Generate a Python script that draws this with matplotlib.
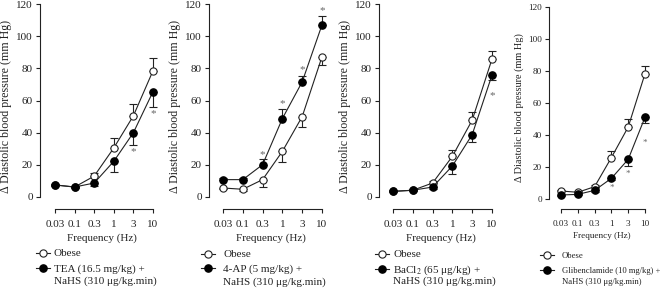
#!/usr/bin/env python3
"""Diastolic blood pressure response vs stimulation frequency, four panels."""
import matplotlib
matplotlib.use("Agg")
import matplotlib.pyplot as plt

plt.rcParams["font.family"] = ["Liberation Serif", "DejaVu Serif"]
plt.rcParams["mathtext.fontset"] = "stix"

FREQS = ["0.03", "0.1", "0.3", "1", "3", "10"]

# panel 1: TEA
obese_1 = [7.5, 6.2, 13, 30.5, 50.5, 78.5]
obese_1_err = [0.8, 0.8, 2.0, 6.3, 7.5, 8.0]
drug_1 = [7.5, 6.2, 8.7, 22.2, 40, 65.5]
drug_1_err = [0.8, 0.8, 2.0, 6.5, 7.5, 9.4]
stars_1 = {4: 28, 5: 52}

# panel 2: 4-AP
obese_2 = [5.6, 4.8, 10.8, 28.4, 50, 87.2]
obese_2_err = [0.8, 0.8, 4.5, 6.6, 6.5, 5.0]
drug_2 = [10.8, 10.8, 20.1, 48.8, 71.6, 107]
drug_2_err = [0.8, 0.8, 3.5, 6.0, 3.6, 5.4]
stars_2 = {2: 26.6, 3: 58, 4: 79.5, 5: 115.7}

# panel 3: BaCl2
obese_3 = [3.5, 4.2, 8.7, 25.3, 47.8, 85.8]
obese_3_err = [0.6, 0.6, 1.0, 3.7, 5.2, 5.2]
drug_3 = [3.5, 4.2, 6.2, 19.3, 38.8, 75.8]
drug_3_err = [0.6, 0.6, 1.0, 5.2, 4.5, 3.1]
stars_3 = {5: 63}

# panel 4: glibenclamide
obese_4 = [5.0, 4.2, 7.7, 25.9, 45, 78.3]
obese_4_err = [0.6, 0.6, 1.0, 4.4, 5.0, 4.6]
drug_4 = [2.5, 2.9, 5.4, 12.9, 24.8, 51.1]
drug_4_err = [0.6, 0.6, 1.0, 1.0, 3.9, 3.7]
stars_4 = {3: 6.7, 4: 16, 5: 34.9}

DRUG_LABELS = [
    "TEA (16.5 mg/kg) +",
    "4-AP (5 mg/kg) +",
    "BaCl$_2$ (65 μg/kg) +",
    "Glibenclamide (10 mg/kg) +",
]
NAHS_LABEL = "NaHS (310 μg/kg.min)"
# error bars: +1 up, -1 down
ERR_DIR = [(1, -1), (-1, 1), (1, -1), (1, -1)]

W, H = 671, 289
# pixel layout: spine x, first tick x, last tick x, y of 120, y of 0, x-axis y,
# tick font size, label font size
LAYOUT = [
    (40, 55, 153, 4, 197, 209, 8, 8.6),
    (209, 223, 322, 4, 197, 209, 8, 8.6),
    (379, 393, 492, 4, 197, 209, 8, 8.6),
    (549, 561, 645, 7, 199, 209, 6.6, 7.4),
]
# legend: handle left x, text x, legend font size, row y's (obese, drug, nahs)
LEGEND = [
    (36, 54, 8, (253, 269, 281)),
    (201, 223, 8, (254, 269, 282)),
    (375, 393, 8, (254, 269, 281)),
    (540, 562, 6.2, (255, 270, 282)),
]

fig = plt.figure(figsize=(W / 100, H / 100), dpi=100)

panels = [
    (obese_1, obese_1_err, drug_1, drug_1_err, stars_1),
    (obese_2, obese_2_err, drug_2, drug_2_err, stars_2),
    (obese_3, obese_3_err, drug_3, drug_3_err, stars_3),
    (obese_4, obese_4_err, drug_4, drug_4_err, stars_4),
]

xs = list(range(len(FREQS)))
for i, (ob, ob_e, dr, dr_e, stars) in enumerate(panels):
    sx, t0, t5, y120, y0, yb, fs, lfs = LAYOUT[i]
    right = t5 + 10
    ax = fig.add_axes([sx / W, 1 - yb / H, (right - sx) / W, (yb - y120) / H])
    perx = (t5 - t0) / 5
    pery = (y0 - y120) / 120
    ax.set_xlim(-(t0 - sx) / perx, 5 + (right - t5) / perx)
    ax.set_ylim(-(yb - y0) / pery, 120)

    d_ob, d_dr = ERR_DIR[i]
    ob_lo = [e if d_ob < 0 else 0 for e in ob_e]
    ob_hi = [e if d_ob > 0 else 0 for e in ob_e]
    dr_lo = [e if d_dr < 0 else 0 for e in dr_e]
    dr_hi = [e if d_dr > 0 else 0 for e in dr_e]

    ax.errorbar(xs, ob, yerr=[ob_lo, ob_hi], fmt="none", ecolor="#222222",
                elinewidth=0.8, capsize=3.2, capthick=0.8, zorder=2)
    ax.errorbar(xs, dr, yerr=[dr_lo, dr_hi], fmt="none", ecolor="#222222",
                elinewidth=0.8, capsize=3.2, capthick=0.8, zorder=2)
    ax.plot(xs, ob, "-o", color="#222222", lw=0.8, ms=5.2, mfc="white",
            mec="#222222", mew=0.8, label="Obese", zorder=3)
    ax.plot(xs, dr, "-o", color="#222222", lw=0.8, ms=5.2, mfc="black",
            mec="black", label=DRUG_LABELS[i], zorder=4)

    for k, v in stars.items():
        ax.text(k, v, "*", ha="center", va="center", fontsize=fs,
                color="#666666")

    for s in ("top", "right"):
        ax.spines[s].set_visible(False)
    ax.spines["left"].set_bounds(0, 120)
    ax.spines["bottom"].set_bounds(0, 5)
    for s in ("left", "bottom"):
        ax.spines[s].set_linewidth(0.8)
        ax.spines[s].set_color("#222222")

    ax.set_yticks(range(0, 121, 20))
    ax.set_xticks(xs)
    ax.set_xticklabels(FREQS)
    ax.tick_params(axis="both", labelsize=fs, width=0.8, length=3,
                   colors="#222222", pad=2)
    ax.tick_params(axis="x", pad=5)
    ax.set_xlabel("Frequency (Hz)", fontsize=fs, labelpad=3, color="#222222")
    ax.set_ylabel("Δ Diastolic blood pressure (mm Hg)", fontsize=lfs,
                  labelpad=3, color="#222222")

    # legend with handles; second text line placed under the drug entry
    hx, tx, gfs, (ry0, ry1, ry2) = LEGEND[i]
    hl_px = 14
    pad_px = tx - hx - hl_px
    row_h = gfs * 1.15 / 0.72
    gap_pt = (ry1 - ry0 - row_h + 2) * 0.72
    leg = ax.legend(loc="upper left",
                    bbox_to_anchor=(hx / W, 1 - (ry0 - row_h / 2 + 2) / H),
                    bbox_transform=fig.transFigure, frameon=False,
                    fontsize=gfs, handlelength=hl_px * 0.72 / gfs,
                    handletextpad=pad_px * 0.72 / gfs,
                    labelspacing=gap_pt / gfs, borderaxespad=0, borderpad=0)
    for t in leg.get_texts():
        t.set_color("#222222")
    fig.text(tx / W, 1 - ry2 / H, NAHS_LABEL, fontsize=gfs, ha="left",
             va="center", color="#222222")

fig.savefig("out.png", dpi=100)
